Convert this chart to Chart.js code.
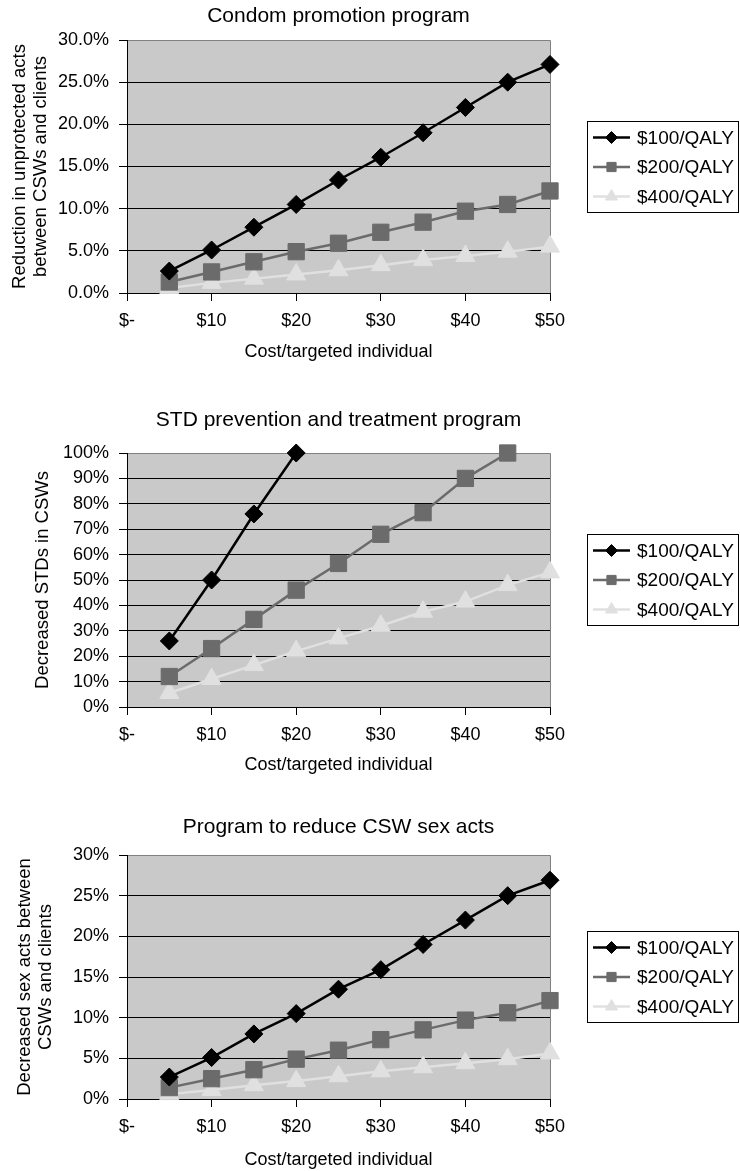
<!DOCTYPE html>
<html>
<head>
<meta charset="utf-8">
<script src="https://cdn.jsdelivr.net/npm/chart.js@4.4.1/dist/chart.umd.min.js"></script>
<style>
html,body{margin:0;padding:0;background:#fff;}
body{width:740px;height:1171px;position:relative;overflow:hidden;}
canvas{position:absolute;left:0;}
</style>
</head>
<body>
<canvas id="c1" width="740" height="380" style="top:0px;width:740px;height:380px"></canvas>
<canvas id="c2" width="740" height="400" style="top:380px;width:740px;height:400px"></canvas>
<canvas id="c3" width="740" height="391" style="top:780px;width:740px;height:391px"></canvas>
<script>
// ---------- data ----------
const costs = [5, 10, 15, 20, 25, 30, 35, 40, 45, 50];
const seriesNames = ['$100/QALY', '$200/QALY', '$400/QALY'];
const xTickValues = [0, 10, 20, 30, 40, 50];
const xTitle = 'Cost/targeted individual';

// Panel 1: Condom promotion program (% reduction)
const condom100 = [2.6, 5.1, 7.8, 10.5, 13.4, 16.1, 19.0, 22.0, 25.0, 27.1];
const condom200 = [1.3, 2.5, 3.7, 4.9, 5.9, 7.2, 8.4, 9.7, 10.5, 12.1];
const condom400 = [0.6, 1.2, 1.7, 2.2, 2.7, 3.3, 3.9, 4.4, 4.9, 5.5];
const condomYTicks = [0, 5, 10, 15, 20, 25, 30];

// Panel 2: STD prevention and treatment program (% decrease)
const std100 = [26, 50, 76, 100];
const std200 = [12, 23, 34.5, 46, 56.5, 68, 76.5, 90, 100];
const std400 = [5.5, 11, 16.5, 22, 27, 32, 37.5, 41.5, 48, 53];
const stdYTicks = [0, 10, 20, 30, 40, 50, 60, 70, 80, 90, 100];

// Panel 3: Program to reduce CSW sex acts (% decrease)
const sex100 = [2.7, 5.1, 8.0, 10.5, 13.5, 15.9, 19.0, 22.0, 25.0, 26.9];
const sex200 = [1.4, 2.5, 3.6, 4.9, 6.0, 7.3, 8.5, 9.7, 10.6, 12.1];
const sex400 = [0.6, 1.1, 1.7, 2.2, 2.8, 3.4, 3.9, 4.4, 4.9, 5.6];
const sexYTicks = [0, 5, 10, 15, 20, 25, 30];

// ---------- styles ----------
const FONT = "'Liberation Sans', Arial, Helvetica, sans-serif";
const seriesStyles = [
  {color: '#000000', point: 'rectRot', radius: 9, legendRadius: 6},
  {color: '#6b6b6b', point: 'rect', radius: 11.5, legendRadius: 6.5},
  {color: '#e0e0e0', point: 'triangle', radius: 11, legendRadius: 7}
];

const decor = {
  id: 'decor',
  beforeDraw(chart, args, o) {
    const {ctx, chartArea: a} = chart;
    ctx.save();
    ctx.fillStyle = o.plotBg;
    ctx.fillRect(a.left, a.top, a.right - a.left, a.bottom - a.top);
    ctx.restore();
  },
  beforeDatasetsDraw(chart, args, o) {
    const {ctx, chartArea: a} = chart;
    ctx.save();
    ctx.strokeStyle = o.frameColor;
    ctx.lineWidth = 1;
    ctx.beginPath();
    ctx.moveTo(a.left + 1, Math.round(a.top) + 0.5);
    ctx.lineTo(Math.round(a.right) + 0.5, Math.round(a.top) + 0.5);
    ctx.lineTo(Math.round(a.right) + 0.5, a.bottom);
    ctx.stroke();
    ctx.restore();
  },
  afterDraw(chart, args, o) {
    const {ctx, chartArea: a} = chart;
    ctx.save();
    // title, centred over the plot area
    ctx.fillStyle = '#000';
    ctx.font = o.titleSize + 'px ' + FONT;
    ctx.textAlign = 'center';
    ctx.textBaseline = 'middle';
    ctx.fillText(o.title, (a.left + a.right) / 2, o.titleY);
    // legend box
    const bw = 152, bh = 92;
    const left = Math.round(a.right) + 37;
    const top = Math.round((a.top + a.bottom) / 2 - bh / 2);
    ctx.strokeStyle = '#000';
    ctx.lineWidth = 1;
    ctx.strokeRect(left + 0.5, top + 0.5, bw - 1, bh - 1);
    ctx.font = '19px ' + FONT;
    ctx.textAlign = 'left';
    chart.data.datasets.forEach((ds, i) => {
      const y = top + 16.5 + i * 29.5;
      ctx.strokeStyle = ds.borderColor;
      ctx.lineWidth = 2.5;
      ctx.beginPath();
      ctx.moveTo(left + 6, y);
      ctx.lineTo(left + 43, y);
      ctx.stroke();
      ctx.fillStyle = ds.pointBackgroundColor;
      ctx.strokeStyle = ds.pointBorderColor;
      ctx.lineWidth = 1;
      Chart.helpers.drawPoint(ctx, {pointStyle: ds.pointStyle, radius: ds.legendRadius, rotation: 0, borderWidth: 1}, left + 24.5, y);
      ctx.fillStyle = '#000';
      ctx.fillText(ds.label, left + 50, y + 1);
    });
    ctx.restore();
  }
};

function series(values) {
  return values.map((v, i) => ({x: costs[i], y: v}));
}

function makePanel(id, cfg) {
  const H = document.getElementById(id).height;
  const datasets = cfg.data.map((vals, i) => {
    const st = seriesStyles[i];
    return {
      label: seriesNames[i],
      data: series(vals),
      borderColor: st.color,
      backgroundColor: st.color,
      borderWidth: 2.5,
      pointStyle: st.point,
      pointRadius: st.radius,
      pointHoverRadius: st.radius,
      pointBackgroundColor: st.color,
      pointBorderColor: st.color,
      pointBorderWidth: 1,
      legendRadius: st.legendRadius,
      tension: 0,
      clip: false
    };
  });
  new Chart(document.getElementById(id), {
    type: 'line',
    data: {datasets},
    plugins: [decor],
    options: {
      responsive: false,
      animation: false,
      devicePixelRatio: 1,
      layout: {padding: {left: 0, right: 190, top: cfg.plotTop, bottom: 0}},
      plugins: {
        legend: {display: false},
        tooltip: {enabled: false},
        title: {display: false},
        decor: {title: cfg.title, titleY: cfg.titleY, titleSize: 21, plotBg: '#c9c9c9', frameColor: '#808080'}
      },
      scales: {
        x: {
          type: 'linear', min: 0, max: 50,
          afterBuildTicks: s => { s.ticks = xTickValues.map(v => ({value: v})); },
          ticks: {
            callback: v => v === 0 ? '$-' : '$' + v,
            font: {family: FONT, size: 18}, color: '#000', padding: 9,
            maxRotation: 0, autoSkip: false
          },
          grid: {display: true, drawOnChartArea: false, drawTicks: true, tickLength: 8, tickColor: '#000', color: '#000'},
          border: {display: true, color: '#000', width: 1},
          title: {display: true, text: xTitle, color: '#000', font: {family: FONT, size: 18, lineHeight: 1.2}, padding: {top: 0, bottom: cfg.xTitlePad}},
          afterFit: s => { s.height = H - cfg.plotBottom; }
        },
        y: {
          type: 'linear', min: 0, max: cfg.yTicks[cfg.yTicks.length - 1],
          afterBuildTicks: s => { s.ticks = cfg.yTicks.map(v => ({value: v})); },
          ticks: {
            callback: v => v.toFixed(cfg.decimals) + '%',
            font: {family: FONT, size: 18}, color: '#000', padding: 10
          },
          grid: {
            color: c => (c.tick && c.tick.value === cfg.yTicks[cfg.yTicks.length - 1]) ? '#808080' : '#000',
            tickColor: '#000', tickLength: 8, drawTicks: true, lineWidth: 1
          },
          border: {display: true, color: '#000', width: 1},
          title: {display: true, text: cfg.yTitle, color: '#000', font: {family: FONT, size: 18.5, lineHeight: 20.5 / 18.5}, padding: {top: cfg.yTitlePad, bottom: 0}},
          afterFit: s => { s.width = 127; }
        }
      }
    }
  });
}

makePanel('c1', {
  title: 'Condom promotion program', titleY: 16.5,
  data: [condom100, condom200, condom400], yTicks: condomYTicks, decimals: 1,
  yTitle: ['Reduction in unprotected acts', 'between CSWs and clients'], yTitlePad: 10,
  plotTop: 40, plotBottom: 293, xTitlePad: 17.4
});
makePanel('c2', {
  title: 'STD prevention and treatment program', titleY: 40,
  data: [std100, std200, std400], yTicks: stdYTicks, decimals: 0,
  yTitle: 'Decreased STDs in CSWs', yTitlePad: 33,
  plotTop: 73, plotBottom: 327, xTitlePad: 4.4
});
makePanel('c3', {
  title: 'Program to reduce CSW sex acts', titleY: 47,
  data: [sex100, sex200, sex400], yTicks: sexYTicks, decimals: 0,
  yTitle: ['Decreased sex acts between', 'CSWs and clients'], yTitlePad: 15,
  plotTop: 75, plotBottom: 319, xTitlePad: 0.4
});
</script>
</body>
</html>
